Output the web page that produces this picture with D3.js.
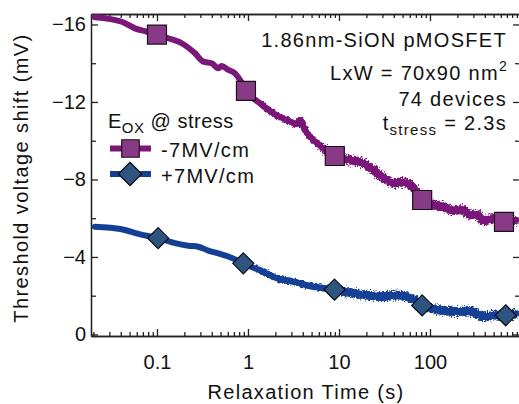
<!DOCTYPE html>
<html>
<head>
<meta charset="utf-8">
<script src="https://cdn.jsdelivr.net/npm/d3@7"></script>
<style>
  body { margin: 0; background: #fff; }
  svg { display: block; font-family: "Liberation Sans", Arial, Helvetica, sans-serif; }
</style>
</head>
<body>
<svg id="chart" width="519" height="404">
  <defs>
    <filter id="rough" filterUnits="userSpaceOnUse" x="0" y="0" width="519" height="404">
      <feTurbulence type="fractalNoise" baseFrequency="0.45" numOctaves="2" seed="4" result="noise"/>
      <feDisplacementMap in="SourceGraphic" in2="noise" scale="5" xChannelSelector="R" yChannelSelector="G"/>
    </filter>
    <filter id="rough2" filterUnits="userSpaceOnUse" x="0" y="0" width="519" height="404">
      <feTurbulence type="fractalNoise" baseFrequency="0.6" numOctaves="2" seed="9" result="noise"/>
      <feDisplacementMap in="SourceGraphic" in2="noise" scale="8" xChannelSelector="R" yChannelSelector="G"/>
    </filter>
  </defs>
</svg>
<script>
// Relaxation of the threshold voltage shift after stress, 74 devices averaged.
const xTickValues = [0.1, 1, 10, 100];
const xTickLabels = ["0.1", "1", "10", "100"];
const yTickValues = [0, -4, -8, -12, -16];
const yTickLabels = ["0", "\u22124", "\u22128", "\u221212", "\u221216"];
const yMinorTicks = [-2, -6, -10, -14];

// -7 MV/cm stress: relaxation time (s) and shift (mV)
const negTime = [0.0208, 0.041, 0.0573, 0.077, 0.1, 0.133, 0.187, 0.262, 0.323, 0.399, 0.472, 0.514,
  0.608, 0.72, 0.817, 0.95, 1.36, 1.9, 2.66, 3.43, 3.73, 4.23, 5.22, 6.72, 9.0, 13.2, 18.5, 23.8,
  33.4, 42, 50.9, 65.5, 82, 118, 150, 180, 230, 275, 330, 385, 470, 541, 660, 898];
const negShift = [-16.37, -16.14, -15.80, -15.63, -15.48, -15.29, -15.03, -14.51, -14.08, -14.00, -13.74, -13.86,
  -13.65, -13.48, -13.14, -12.57, -11.93, -11.42, -11.07, -10.86, -11.07, -10.55, -10.04, -9.61, -9.21, -9.01, -8.84, -8.49,
  -7.97, -7.80, -7.87, -7.59, -6.94, -6.65, -6.55, -6.39, -6.45, -6.17, -6.20, -5.87, -5.95, -6.01, -5.81, -5.91];
const negMarkTime = [0.1, 0.95, 9.0, 82, 650];
const negMarkShift = [-15.48, -12.57, -9.21, -6.94, -5.81];

// +7 MV/cm stress
const posTime = [0.0208, 0.041, 0.0624, 0.103, 0.158, 0.221, 0.284, 0.366, 0.472, 0.608, 0.888, 1.19, 1.47,
  2.07, 3.15, 4.80, 8.93, 13.2, 20.2, 30.7, 43.1, 55.5, 65, 82, 129, 196, 275, 385, 520, 679, 898];
const posShift = [-5.56, -5.43, -5.19, -4.97, -4.71, -4.58, -4.53, -4.33, -4.19, -4.02, -3.67, -3.42, -3.24,
  -2.90, -2.73, -2.50, -2.31, -2.16, -2.04, -1.95, -2.04, -1.95, -1.80, -1.50, -1.26, -1.18, -1.21, -0.92, -1.00, -0.99, -1.09];
const posMarkTime = [0.103, 0.888, 8.93, 82, 679];
const posMarkShift = [-4.97, -3.67, -2.31, -1.50, -0.99];

const negColor = "#7a187a", negFill = "#893a87";
const posColor = "#144094", posFill = "#2e5480";
const ink = "#111";
const spacing = 1.3;

const svg = d3.select("#chart");
const L = 91, R = 520, T = 14, B = 336;

svg.insert("rect", "defs").attr("width", 519).attr("height", 404).attr("fill", "#fff");

const x = d3.scaleLog().domain([0.01884, 975]).range([L, R]);
const y = d3.scaleLinear().domain([0.08, -16.54]).range([B, T]);

// minor log ticks 2..9 in every decade inside the domain
const xMinor = [];
[0.01, 0.1, 1, 10, 100].forEach(d => { for (let k = 2; k <= 9; k++) xMinor.push(d * k); });
const xMinorIn = xMinor.filter(v => v >= x.domain()[0] && v <= x.domain()[1]);

function styleAxis(g) {
  g.attr("font-size", 20).attr("font-family", null);
  g.selectAll("path, line").attr("stroke", "#222").attr("stroke-width", 1.3);
  g.selectAll("text").attr("fill", ink);
}

// bottom
svg.append("g").attr("transform", `translate(0,${B})`)
  .call(d3.axisBottom(x).tickValues(xMinorIn).tickSize(-4).tickSizeOuter(0).tickFormat(""))
  .call(styleAxis);
svg.append("g").attr("transform", `translate(0,${B})`)
  .call(d3.axisBottom(x).tickValues(xTickValues).tickSize(-7).tickSizeOuter(0).tickPadding(19)
    .tickFormat((d, i) => xTickLabels[i]))
  .call(styleAxis);
// top
svg.append("g").attr("transform", `translate(0,${T})`)
  .call(d3.axisTop(x).tickValues(xMinorIn).tickSize(-4).tickSizeOuter(0).tickFormat(""))
  .call(styleAxis);
svg.append("g").attr("transform", `translate(0,${T})`)
  .call(d3.axisTop(x).tickValues(xTickValues).tickSize(-7).tickSizeOuter(0).tickFormat(""))
  .call(styleAxis);
// left
svg.append("g").attr("transform", `translate(${L},0)`)
  .call(d3.axisLeft(y).tickValues(yMinorTicks).tickSize(-5).tickSizeOuter(0).tickFormat(""))
  .call(styleAxis);
svg.append("g").attr("transform", `translate(${L},0)`)
  .call(d3.axisLeft(y).tickValues(yTickValues).tickSize(-7).tickSizeOuter(0).tickPadding(5)
    .tickFormat((d, i) => yTickLabels[i]))
  .call(styleAxis);
// right
svg.append("g").attr("transform", `translate(${R},0)`)
  .call(d3.axisRight(y).tickValues(yMinorTicks).tickSize(-5).tickSizeOuter(0).tickFormat(""))
  .call(styleAxis);
svg.append("g").attr("transform", `translate(${R},0)`)
  .call(d3.axisRight(y).tickValues(yTickValues).tickSize(-7).tickSizeOuter(0).tickFormat(""))
  .call(styleAxis);

// axis titles
svg.append("text").attr("x", 306).attr("y", 399).attr("text-anchor", "middle")
  .attr("font-size", 20).attr("letter-spacing", spacing).attr("fill", ink).text("Relaxation Time (s)");
svg.append("text").attr("transform", "translate(28,178) rotate(-90)").attr("text-anchor", "middle")
  .attr("font-size", 20).attr("letter-spacing", 1.4).attr("fill", ink).text("Threshold voltage shift (mV)");

// traces
const line = d3.line().x(d => x(d[0])).y(d => y(d[1])).curve(d3.curveMonotoneX);
const negData = negTime.map((t, i) => [t, negShift[i]]);
const posData = posTime.map((t, i) => [t, posShift[i]]);

svg.append("clipPath").attr("id", "plotClip")
  .append("rect").attr("x", L).attr("y", T).attr("width", R - L).attr("height", B - T);
const plot = svg.append("g").attr("clip-path", "url(#plotClip)");

function trace(data, color) {
  plot.append("path").attr("d", line(data)).attr("fill", "none").attr("stroke", color)
    .attr("stroke-width", 6).attr("stroke-linejoin", "round").attr("stroke-linecap", "round");
  plot.append("path").attr("d", line(data.filter(d => d[0] >= 1))).attr("fill", "none").attr("stroke", color)
    .attr("stroke-width", 6.5).attr("filter", "url(#rough)");
  plot.append("path").attr("d", line(data.filter(d => d[0] >= 6))).attr("fill", "none").attr("stroke", color)
    .attr("stroke-width", 9).attr("filter", "url(#rough2)");
}
trace(negData, negColor);
trace(posData, posColor);

const square = d3.symbol().type(d3.symbolSquare).size(19 * 19);
const diamond = d3.symbol().type(d3.symbolDiamond2).size(16.8 * 16.8);

plot.selectAll("path.neg-mark").data(negMarkTime).join("path").attr("class", "neg-mark")
  .attr("transform", (t, i) => `translate(${x(t)},${y(negMarkShift[i])})`)
  .attr("d", square).attr("fill", negFill).attr("stroke", "#1e101e").attr("stroke-width", 1.2);
plot.selectAll("path.pos-mark").data(posMarkTime).join("path").attr("class", "pos-mark")
  .attr("transform", (t, i) => `translate(${x(t)},${y(posMarkShift[i])})`)
  .attr("d", diamond).attr("fill", posFill).attr("stroke", "#0d0d14").attr("stroke-width", 1.2);

// legend
const lg = svg.append("g").attr("font-size", 20).attr("fill", ink);
const lt = lg.append("text").attr("x", 108).attr("y", 128).attr("letter-spacing", 0.5);
lt.append("tspan").text("E");
lt.append("tspan").attr("dy", 5).attr("font-size", 15).text("OX");
lt.append("tspan").attr("dy", -5).text(" @ stress");

lg.append("line").attr("x1", 110).attr("x2", 151).attr("y1", 148.5).attr("y2", 148.5)
  .attr("stroke", negColor).attr("stroke-width", 6);
lg.append("path").attr("transform", "translate(130.5,148.5)")
  .attr("d", d3.symbol().type(d3.symbolSquare).size(17.5 * 17.5)())
  .attr("fill", negFill).attr("stroke", "#1e101e").attr("stroke-width", 1.2);
lg.append("text").attr("x", 161).attr("y", 157).attr("letter-spacing", spacing).text("-7MV/cm");

lg.append("line").attr("x1", 110).attr("x2", 151).attr("y1", 174).attr("y2", 174)
  .attr("stroke", posColor).attr("stroke-width", 6);
lg.append("path").attr("transform", "translate(130,174)")
  .attr("d", d3.symbol().type(d3.symbolDiamond2).size(18.7 * 18.7)())
  .attr("fill", posFill).attr("stroke", "#0d0d14").attr("stroke-width", 1.2);
lg.append("text").attr("x", 161).attr("y", 183).attr("letter-spacing", spacing).text("+7MV/cm");

// device notes
const note = svg.append("g").attr("font-size", 20).attr("fill", ink).attr("text-anchor", "end")
  .attr("letter-spacing", spacing);
note.append("text").attr("x", 507).attr("y", 47).text("1.86nm-SiON pMOSFET");
const n2 = note.append("text").attr("x", 508).attr("y", 80);
n2.append("tspan").text("LxW = 70x90 nm");
n2.append("tspan").attr("dy", -9).attr("font-size", 14).text("2");
note.append("text").attr("x", 507).attr("y", 106).text("74 devices");
const n4 = note.append("text").attr("x", 507).attr("y", 130);
n4.append("tspan").text("t");
n4.append("tspan").attr("dy", 5).attr("font-size", 15).text("stress");
n4.append("tspan").attr("dy", -5).text(" = 2.3s");
</script>
</body>
</html>
